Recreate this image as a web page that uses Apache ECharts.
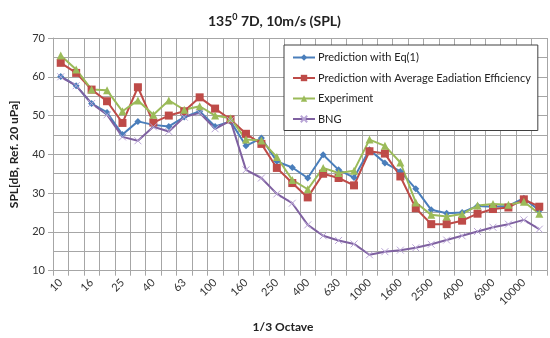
<!DOCTYPE html>
<html><head><meta charset="utf-8">
<script src="https://cdn.jsdelivr.net/npm/echarts@6/dist/echarts.min.js"></script>
<style>html,body{margin:0;padding:0;background:#fff}#c{width:550px;height:338px}</style>
</head><body><div id="c"></div>
<script>
const categories = ['10','12.5','16','20','25','31.5','40','50','63','80','100','125','160','200','250','315','400','500','630','800','1000','1250','1600','2000','2500','3150','4000','5000','6300','8000','10000','12500'];
const eq1 = [60.1,57.7,53.1,50.8,45.1,48.5,47.6,47.2,49.6,51.1,47.2,48.5,42.2,44.2,38.2,36.6,33.9,39.9,36.0,34.0,41.2,37.8,35.6,31.1,25.7,24.8,25.0,26.7,26.5,26.7,28.7,25.5];
const avgEff = [63.6,61.0,56.7,53.7,48.1,57.3,48.2,50.0,51.1,54.7,51.8,49.0,45.3,42.7,36.5,32.6,28.9,35.0,33.9,32.0,40.8,40.2,34.3,26.1,22.0,22.0,22.9,24.7,25.9,26.3,28.4,26.5];
const experiment = [65.5,61.9,56.7,56.5,51.1,53.9,50.2,53.9,51.5,52.4,50.0,49.3,43.8,43.6,39.3,33.4,31.0,36.5,35.2,35.8,43.8,42.2,37.9,27.6,24.4,24.0,24.6,26.8,27.2,27.0,27.8,24.7];
const bng = [60.0,57.7,53.1,50.2,44.5,43.5,47.1,45.9,49.6,50.7,46.6,48.7,36.0,33.9,29.8,27.4,21.8,19.0,17.8,16.9,14.1,14.9,15.3,15.9,16.8,17.9,19.0,20.1,21.2,22.0,23.1,20.7];
const seriesNames = ['Prediction with Eq(1)','Prediction with Average Eadiation Efficiency','Experiment','BNG'];
const yTicks = [10,20,30,40,50,60,70];

const font = 'Lato, "Open Sans", sans-serif';
const grid = '#a6a6a6';
const chart = echarts.init(document.getElementById('c'), null, {renderer:'canvas'});
const xPath = 'path://M0,0L10,10M10,0L0,10';
function mk(name, data, color, symbol, size, extra) {
  return Object.assign({
    name, type:'line', data, symbol, symbolSize:size, smooth:false,
    lineStyle:{color, width:2}, itemStyle:{color, borderColor:color, borderWidth:0},
    emphasis:{disabled:true}, animation:false
  }, extra||{});
}
chart.setOption({
  animation:false,
  textStyle:{fontFamily:font},
  title:{
    text:'135{sup|0} 7D, 10m/s (SPL)', left:203, top:8,
    textStyle:{fontFamily:font, fontSize:14, fontWeight:'bold', color:'#222',
      rich:{sup:{fontFamily:font, fontSize:9, fontWeight:'bold', color:'#222', verticalAlign:'top', padding:[0,0,7,0]}}}
  },
  legend:{
    orient:'vertical', left:284, top:45, data:seriesNames,
    backgroundColor:'#fff', borderColor:'#404040', borderWidth:1,
    padding:[7,7,6,8], itemGap:9.5, itemWidth:22, itemHeight:8,
    textStyle:{fontFamily:font, fontSize:11, color:'#222', padding:[0,0,0,-2]}
  },
  grid:{left:52, right:3, top:38, bottom:67.3, containLabel:false},
  xAxis:{
    type:'category', data:categories, boundaryGap:true,
    name:'1/3 Octave', nameLocation:'middle', nameGap:50,
    nameTextStyle:{fontFamily:font, fontSize:12, fontWeight:'bold', color:'#222', padding:[0,34,0,0]},
    axisLine:{lineStyle:{color:grid}},
    axisTick:{show:true, interval:0, length:5, lineStyle:{color:grid}},
    axisLabel:{interval:1, rotate:45, fontFamily:font, fontSize:11, color:'#333', margin:10},
    splitLine:{show:true, interval:0, lineStyle:{color:grid, width:1}}
  },
  yAxis:{
    type:'value', min:yTicks[0], max:yTicks[yTicks.length-1], interval:10,
    name:'SPL[dB, Ref. 20 uPa]', nameLocation:'middle', nameGap:33, nameRotate:90,
    nameTextStyle:{fontFamily:font, fontSize:12, fontWeight:'bold', color:'#222'},
    axisLine:{show:true, lineStyle:{color:grid}},
    axisTick:{show:true, length:5, lineStyle:{color:grid}},
    axisLabel:{fontFamily:font, fontSize:11, color:'#333', margin:8},
    splitLine:{show:true, lineStyle:{color:grid, width:1}},
    minorTick:{show:false, splitNumber:2},
    minorSplitLine:{show:true, lineStyle:{color:grid, width:1}}
  },
  series:[
    mk(seriesNames[0], eq1, '#4a7ebb', 'diamond', 7),
    mk(seriesNames[1], avgEff, '#be4b48', 'rect', 8),
    mk(seriesNames[2], experiment, '#9bbb59', 'triangle', 8),
    mk(seriesNames[3], bng, '#7f61a1', xPath, 7, {itemStyle:{color:'rgba(0,0,0,0)', borderColor:'#b9a5d6', borderWidth:1}})
  ]
});
</script></body></html>
